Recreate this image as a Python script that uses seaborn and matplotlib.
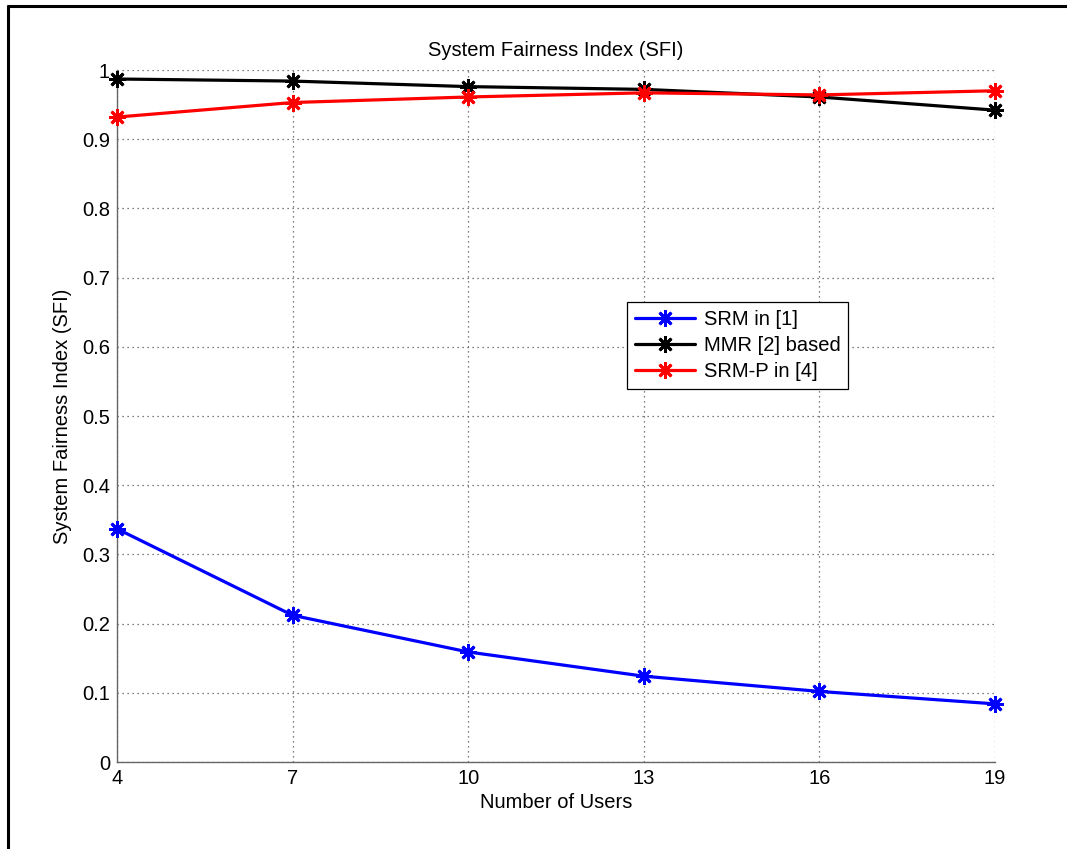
import matplotlib
matplotlib.use("Agg")
import matplotlib.pyplot as plt
from matplotlib.lines import Line2D
import seaborn as sns
import pandas as pd

users = [4, 7, 10, 13, 16, 19]
srm = [0.337, 0.212, 0.159, 0.124, 0.102, 0.084]
mmr = [0.987, 0.984, 0.976, 0.972, 0.961, 0.942]
srm_p = [0.932, 0.953, 0.961, 0.967, 0.964, 0.970]
series_names = ["SRM in [1]", "MMR [2] based", "SRM-P in [4]"]
colors = ["#0000ff", "#000000", "#ff0000"]
yticks = [0, 0.1, 0.2, 0.3, 0.4, 0.5, 0.6, 0.7, 0.8, 0.9, 1.0]
ytick_labels = ["0", "0.1", "0.2", "0.3", "0.4", "0.5", "0.6", "0.7", "0.8", "0.9", "1"]

sns.set_style("white")
plt.rcParams["font.family"] = ["Liberation Sans", "DejaVu Sans"]
plt.rcParams["text.color"] = "black"
plt.rcParams["axes.labelcolor"] = "black"

FS = 14.5

fig = plt.figure(figsize=(10.67, 8.49), dpi=100)
ax = fig.add_axes([117 / 1067, 1 - 762 / 849, (995 - 117) / 1067, (762 - 70) / 849])

asterisk = (8, 2, 0)
for name, vals, col in zip(series_names, [srm, mmr, srm_p], colors):
    df = pd.DataFrame({"x": users, "y": vals})
    sns.lineplot(data=df, x="x", y="y", ax=ax, color=col, label=name,
                 linewidth=2.3, marker=asterisk, markersize=12,
                 markeredgewidth=2.0, markeredgecolor=col, markerfacecolor=col,
                 zorder=3, clip_on=False)

ax.set_xlim(4, 19)
ax.set_ylim(0, 1)
ax.set_xticks(users)
ax.set_xticklabels([str(u) for u in users])
ax.set_yticks(yticks)
ax.set_yticklabels(ytick_labels)

ax.grid(True, linestyle=(0, (1, 3)), color="#555555", linewidth=0.9)
for side in ["top", "right"]:
    ax.spines[side].set_visible(False)
for side in ["left", "bottom"]:
    ax.spines[side].set_color("#666666")
    ax.spines[side].set_linewidth(1.0)

ax.tick_params(axis="both", direction="in", length=7, width=0.9, color="#333333",
               labelsize=FS, labelcolor="black", pad=5)

ax.set_title("System Fairness Index (SFI)", fontsize=FS, pad=10, color="black")
ax.set_xlabel("Number of Users", fontsize=FS, labelpad=4, color="black")
ax.set_ylabel("System Fairness Index (SFI)", fontsize=FS, labelpad=7, color="black")

leg = ax.legend(loc="upper left", bbox_to_anchor=((627 - 117) / 878, (762 - 302) / 692),
                fontsize=FS, frameon=True, fancybox=False, framealpha=1,
                edgecolor="black", handlelength=3.0, borderaxespad=0,
                borderpad=0.4, labelspacing=0.35, handletextpad=0.4)
leg.get_frame().set_linewidth(0.9)
for t in leg.get_texts():
    t.set_color("black")

# outer frame (left and top)
fig.add_artist(Line2D([7.5 / 1067, 7.5 / 1067], [0, 1 - 5.5 / 849], color="black",
                      linewidth=2.2, transform=fig.transFigure))
fig.add_artist(Line2D([7.5 / 1067, 1], [1 - 5.5 / 849, 1 - 5.5 / 849], color="black",
                      linewidth=2.2, transform=fig.transFigure))

fig.savefig("out.png", dpi=100)
